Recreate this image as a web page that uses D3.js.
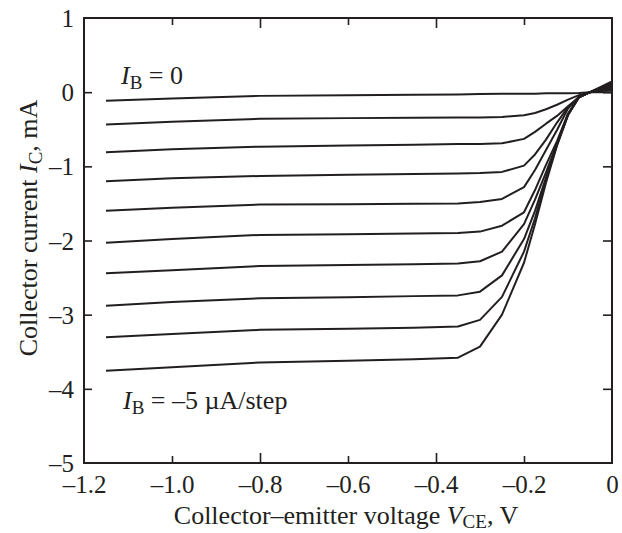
<!DOCTYPE html>
<html>
<head>
<meta charset="utf-8">
<script src="https://cdn.jsdelivr.net/npm/d3@7"></script>
<style>
  html, body { margin: 0; padding: 0; background: #fff; }
  svg { display: block; }
  text { font-family: "Liberation Serif", "Times New Roman", serif; fill: #231f20; }
</style>
</head>
<body>
<svg id="chart" width="622" height="533"></svg>
<script>
// Collector-emitter voltage sample points (V)
const vce = [-1.15, -1.0, -0.8, -0.6, -0.45, -0.35, -0.3, -0.25, -0.2, -0.175, -0.15, -0.125, -0.1, -0.075, -0.05, 0];

// Collector current (mA) for each base-current step (IB = 0, -5, ..., -45 uA)
const ic0 = [-0.115, -0.085, -0.05, -0.04, -0.035, -0.03, -0.025, -0.02, -0.02, -0.02, -0.015, -0.015, -0.015, -0.01, 0.0, 0.0];
const ic1 = [-0.435, -0.40, -0.36, -0.35, -0.345, -0.34, -0.34, -0.335, -0.31, -0.28, -0.23, -0.17, -0.10, -0.04, 0.0, 0.03];
const ic2 = [-0.81, -0.77, -0.735, -0.72, -0.71, -0.70, -0.70, -0.69, -0.63, -0.535, -0.425, -0.32, -0.19, -0.07, 0.0, 0.05];
const ic3 = [-1.20, -1.16, -1.13, -1.115, -1.105, -1.095, -1.09, -1.075, -0.99, -0.84, -0.64, -0.41, -0.20, -0.065, 0.0, 0.07];
const ic4 = [-1.60, -1.56, -1.515, -1.51, -1.505, -1.50, -1.48, -1.44, -1.28, -1.05, -0.78, -0.51, -0.22, -0.06, 0.0, 0.085];
const ic5 = [-2.03, -1.98, -1.925, -1.915, -1.905, -1.90, -1.88, -1.80, -1.62, -1.32, -0.98, -0.66, -0.29, -0.065, 0.0, 0.10];
const ic6 = [-2.44, -2.40, -2.345, -2.33, -2.32, -2.31, -2.28, -2.15, -1.78, -1.45, -1.08, -0.69, -0.30, -0.07, 0.0, 0.11];
const ic7 = [-2.88, -2.83, -2.78, -2.765, -2.75, -2.74, -2.69, -2.47, -1.98, -1.60, -1.15, -0.70, -0.30, -0.065, 0.0, 0.12];
const ic8 = [-3.305, -3.26, -3.205, -3.19, -3.175, -3.16, -3.07, -2.76, -2.15, -1.70, -1.18, -0.71, -0.305, -0.065, 0.0, 0.13];
const ic9 = [-3.755, -3.71, -3.645, -3.62, -3.60, -3.58, -3.43, -3.00, -2.30, -1.78, -1.22, -0.72, -0.31, -0.065, 0.0, 0.145];
const series = [ic0, ic1, ic2, ic3, ic4, ic5, ic6, ic7, ic8, ic9];

// Tick values
const xTicks = [-1.2, -1.0, -0.8, -0.6, -0.4, -0.2, 0];
const xLongTicks = [-0.8, -0.4];
const yTicks = [1, 0, -1, -2, -3, -4, -5];

(function () {
const svg = d3.select("#chart");
const ink = "#231f20";
const pL = 84, pR = 612, pT = 18, pB = 463;

const x = d3.scaleLinear().domain([-1.2, 0]).range([pL, pR]);
const y = d3.scaleLinear().domain([-5, 1]).range([pB, pT]);

const dash = s => s.replace(/[-\u2212]/g, "\u2013");
const fmtX = d => d === 0 ? "0" : dash(d3.format(".1f")(d));
const fmtY = d => dash(d3.format("d")(d));

// Curves
const line = d3.line().x(d => x(d[0])).y(d => y(d[1]));
svg.append("g").selectAll("path")
  .data(series)
  .join("path")
  .attr("d", s => line(vce.map((v, i) => [v, s[i]])))
  .attr("fill", "none")
  .attr("stroke", ink)
  .attr("stroke-width", 2)
  .attr("stroke-linejoin", "round");

// Axes
const fsTick = 25, fs = 26, fsSub = 19;
function tickLen(d) { return xLongTicks.some(t => Math.abs(t - d) < 1e-9) ? 10 : 7; }

const gB = svg.append("g").attr("transform", `translate(0,${pB})`)
  .call(d3.axisBottom(x).tickValues(xTicks).tickFormat(fmtX).tickSizeOuter(0));
gB.selectAll(".tick line").attr("y2", d => (d === -1.2 || d === 0) ? 0 : -tickLen(d));
gB.selectAll(".tick text").attr("y", 30).attr("dy", null).style("font-size", fsTick + "px").attr("fill", ink);

const gT = svg.append("g").attr("transform", `translate(0,${pT})`)
  .call(d3.axisTop(x).tickValues(xTicks).tickFormat("").tickSizeOuter(0));
gT.selectAll(".tick line").attr("y2", d => (d === -1.2 || d === 0) ? 0 : tickLen(d));

const gL = svg.append("g").attr("transform", `translate(${pL},0)`)
  .call(d3.axisLeft(y).tickValues(yTicks).tickFormat(fmtY).tickSizeOuter(0));
gL.selectAll(".tick line").attr("x2", d => (d === 1 || d === -5) ? 0 : 8);
gL.selectAll(".tick text").attr("x", -10).attr("dy", "0.34em").style("font-size", fsTick + "px").attr("fill", ink);

const gR = svg.append("g").attr("transform", `translate(${pR},0)`)
  .call(d3.axisRight(y).tickValues(yTicks).tickFormat("").tickSizeOuter(0));
gR.selectAll(".tick line").attr("x2", d => (d === 1 || d === -5) ? 0 : -9);

[gB, gT, gL, gR].forEach(g => {
  g.select(".domain").remove();
  g.selectAll(".tick line").attr("stroke", ink).attr("stroke-width", 1.6);
  g.attr("font-family", null).attr("font-size", null);
});

// Frame
svg.append("rect")
  .attr("x", pL).attr("y", pT)
  .attr("width", pR - pL).attr("height", pB - pT)
  .attr("fill", "none").attr("stroke", ink).attr("stroke-width", 2);

// Axis titles
const xt = svg.append("text")
  .attr("x", 346).attr("y", 524)
  .attr("text-anchor", "middle").style("font-size", fs + "px");
xt.append("tspan").text("Collector\u2013emitter voltage ");
xt.append("tspan").style("font-style", "italic").text("V");
xt.append("tspan").attr("dy", 4).style("font-size", fsSub + "px").text("CE");
xt.append("tspan").attr("dy", -4).text(", V");

const yt = svg.append("text")
  .attr("transform", `translate(37,228) rotate(-90)`)
  .attr("text-anchor", "middle").style("font-size", fs + "px");
yt.append("tspan").text("Collector current ");
yt.append("tspan").style("font-style", "italic").text("I");
yt.append("tspan").attr("dy", 5).style("font-size", fsSub + "px").text("C");
yt.append("tspan").attr("dy", -5).text(", mA");

// Annotations
function ibLabel(px, py, rest) {
  const t = svg.append("text").attr("x", px).attr("y", py).style("font-size", fs + "px");
  t.append("tspan").style("font-style", "italic").text("I");
  t.append("tspan").attr("dy", 5).style("font-size", fsSub + "px").text("B");
  t.append("tspan").attr("dy", -5).text(rest);
}
ibLabel(x(-1.15) + 15, 84, " = 0");
ibLabel(x(-1.15) + 17, 409, " = \u20135 \u00b5A/step");
})();
</script>
</body>
</html>
